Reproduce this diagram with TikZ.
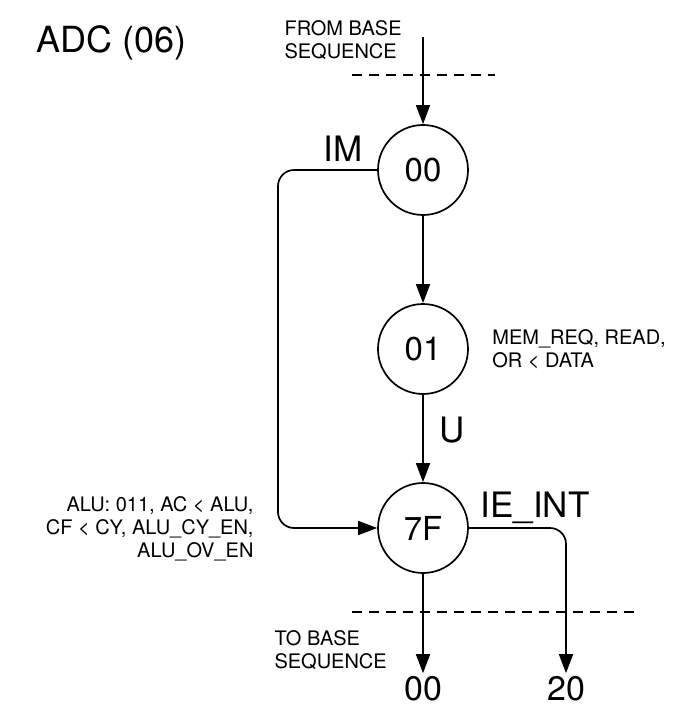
\documentclass[tikz,border=0pt]{standalone}
\usepackage{fontspec}
\setmainfont{TeX Gyre Heros}
\usetikzlibrary{positioning,calc,arrows.meta}
\tikzstyle{state} = [circle, draw, line width=1.7pt, minimum size=90pt,
                     inner sep=0pt, font=\fontsize{33}{33}\selectfont]
\tikzstyle{biglbl} = [font=\fontsize{35}{35}\selectfont]
\tikzstyle{smalllbl} = [font=\fontsize{20}{23}\selectfont, align=left]
\tikzstyle{arrow} = [-{Triangle[length=19pt,width=14pt]}, line width=1.7pt]
\tikzstyle{cut} = [line width=1.7pt, dash pattern=on 10pt off 7pt]

\begin{document}
\begin{tikzpicture}[x=1pt, y=-1pt]
    \useasboundingbox (0,0) rectangle (686,719);

    % States
    \node[state] (s00) at (423,170) {00};
    \node[state] (s01) at (423,349) {01};
    \node[state] (s7F) at (423,528) {7F};

    % Entry and exits
    \coordinate (from) at (423,37);
    \node[biglbl, font=\fontsize{34}{34}\selectfont] (to00) at (423,689) {00};
    \node[biglbl, font=\fontsize{34}{34}\selectfont] (to20) at (566,689) {20};
    \coordinate (imbend) at (278,170);

    % Cut lines
    \draw[cut] (352,75) -- (495,75);
    \draw[cut] (352,612) -- (638,612);

    % Transitions
    \draw[arrow] (from) -- (s00);
    \draw[arrow] (s00) -- (s01);
    \draw[arrow] (s01) -- (s7F);
    \draw[arrow, rounded corners=16pt] (s00.west) -- (imbend) |- (s7F.west);
    \draw[arrow] (s7F) -- (to00);
    \draw[arrow, rounded corners=16pt] (s7F.east) -| (to20);

    % Labels
    \node[biglbl, anchor=base west, font=\fontsize{36}{36}\selectfont] (title) at (33,53) {ADC (06)};
    \node[smalllbl, anchor=west] (fromlbl) at (281,40) {FROM BASE\\SEQUENCE};
    \node[biglbl] (imlbl) at (343,149) {IM};
    \node[biglbl] (ulbl) at (452,430) {U};
    \node[smalllbl, right=20pt of s01] (memlbl) {MEM\_REQ, READ,\\OR < DATA};
    \node[smalllbl, align=right, anchor=east] (alulbl) at (257,529)
        {ALU: 011, AC < ALU,\\CF < CY, ALU\_CY\_EN,\\ALU\_OV\_EN};
    \node[biglbl] (ielbl) at (535,508) {IE\_INT};
    \node[smalllbl, anchor=west] (tolbl) at (271,650) {TO BASE\\SEQUENCE};
\end{tikzpicture}
\end{document}
